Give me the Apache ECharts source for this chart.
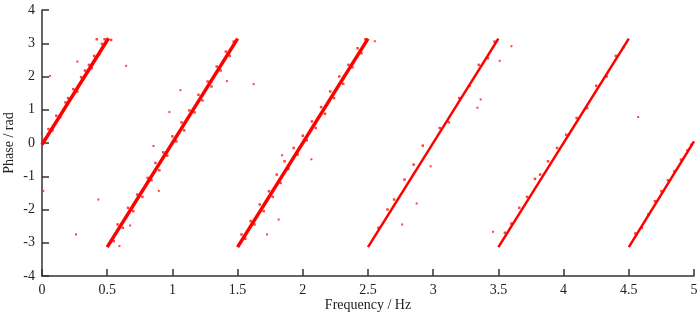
<!DOCTYPE html>
<html>
<head>
<meta charset="utf-8">
<script src="https://cdn.jsdelivr.net/npm/echarts@6/dist/echarts.min.js"></script>
<style>
  html, body { margin: 0; padding: 0; background: #fff; }
  #chart { width: 700px; height: 312px; }
</style>
</head>
<body>
<div id="chart"></div>
<script>
// 每段相位线的起止（相位在 ±π 处折返）
var segFreqStart = [0, 0.5, 1.5, 2.5, 3.5, 4.5];
var segFreqEnd = [0.51, 1.5, 2.5, 3.5, 4.5, 5];
var segPhaseStart = [-0.05, -3.13, -3.13, -3.13, -3.13, -3.13];
var segPhaseEnd = [3.15, 3.14, 3.14, 3.14, 3.14, 0.05];
var segWidth = [3.5, 3.5, 3.5, 2.5, 2.5, 2.5];

// 线旁边的散点
var nearPoints = [
    [0.02, 0.12], [0.05, 0.42], [0.08, 0.38], [0.11, 0.82], [0.14, 0.78], [0.18, 1.22], [0.2, 1.35],
    [0.24, 1.62], [0.27, 1.55], [0.3, 1.98], [0.33, 2.18], [0.36, 2.35], [0.38, 2.25], [0.4, 2.62],
    [0.42, 3.12], [0.44, 2.68], [0.46, 2.98], [0.48, 3.12], [0.53, 3.1],
    [0.55, -2.95], [0.58, -2.45], [0.62, -2.55], [0.66, -1.95], [0.7, -2.05], [0.73, -1.55], [0.77, -1.62],
    [0.81, -1.05], [0.84, -1.12], [0.87, -0.6], [0.9, -0.82], [0.93, -0.28], [0.96, -0.38], [1.0, 0.2],
    [1.03, 0.05], [1.07, 0.62], [1.09, 0.38], [1.13, 0.98], [1.17, 0.92], [1.2, 1.45], [1.23, 1.28],
    [1.27, 1.85], [1.3, 1.7], [1.34, 2.3], [1.37, 2.18], [1.41, 2.75], [1.44, 2.62], [1.47, 3.05],
    [1.53, -2.75], [1.56, -2.88], [1.6, -2.35], [1.63, -2.45], [1.67, -1.85], [1.7, -2.05], [1.74, -1.45],
    [1.77, -1.62], [1.8, -0.95], [1.83, -1.2], [1.86, -0.55], [1.89, -0.78], [1.93, -0.15], [1.96, -0.35],
    [2.0, 0.22], [2.03, 0.08], [2.07, 0.65], [2.1, 0.45], [2.14, 1.08], [2.17, 0.88], [2.21, 1.55],
    [2.24, 1.35], [2.28, 2.0], [2.31, 1.78], [2.35, 2.35], [2.38, 2.28], [2.42, 2.85], [2.45, 2.7], [2.48, 3.12],
    [2.58, -2.55], [2.65, -2.0], [2.7, -1.7], [2.78, -1.1], [2.85, -0.65], [2.92, -0.08], [3.05, 0.45],
    [3.12, 0.62], [3.2, 1.35], [3.28, 1.72], [3.35, 2.35], [3.42, 2.55], [3.47, 3.05],
    [3.55, -2.7], [3.6, -2.42], [3.66, -1.95], [3.72, -1.62], [3.78, -1.08], [3.82, -0.95], [3.88, -0.55],
    [3.95, -0.15], [4.02, 0.25], [4.1, 0.75], [4.18, 1.05], [4.25, 1.72], [4.33, 2.0], [4.4, 2.62], [4.46, 2.88],
    [4.55, -2.72], [4.6, -2.55], [4.65, -2.15], [4.7, -1.75], [4.75, -1.45], [4.8, -1.12], [4.85, -0.85],
    [4.9, -0.5], [4.95, -0.22], [4.98, -0.05]
];

// 离群点
var outliers = [
    [0.061, 2.02], [0.645, 2.32], [0.271, 2.45], [1.062, 1.59], [1.418, 1.86], [0.855, -0.09],
    [0.977, 0.93], [0.01, -1.44], [0.432, -1.70], [0.261, -2.75], [0.896, -1.44], [0.676, -2.48],
    [0.594, -3.10], [1.623, 1.77], [1.841, -0.37], [2.552, 3.06], [2.066, -0.49], [1.815, -2.30],
    [1.726, -2.75], [2.98, -0.70], [2.873, -1.82], [2.762, -2.45], [3.60, 2.91], [3.51, 2.47],
    [3.364, 1.31], [3.339, 1.06], [4.572, 0.78], [3.459, -2.67]
];

var xTicks = [0, 0.5, 1, 1.5, 2, 2.5, 3, 3.5, 4, 4.5, 5];
var yMin = -4, yMax = 4;

var fontFamily = '"Liberation Serif", "DejaVu Serif", serif';
var axisColor = '#333';

var series = [];
for (var i = 0; i < segFreqStart.length; i++) {
    series.push({
        type: 'line',
        showSymbol: false,
        silent: true,
        lineStyle: { color: '#ff0000', width: segWidth[i], cap: 'butt' },
        data: [[segFreqStart[i], segPhaseStart[i]], [segFreqEnd[i], segPhaseEnd[i]]]
    });
}
series.push({
    type: 'scatter',
    symbol: 'rect',
    symbolSize: 2.5,
    itemStyle: { color: '#ff2020', opacity: 0.85 },
    data: nearPoints
});
series.push({
    type: 'scatter',
    symbol: 'rect',
    symbolSize: 2,
    itemStyle: { color: '#ff2020', opacity: 0.85 },
    data: outliers
});

var chart = echarts.init(document.getElementById('chart'), null, { renderer: 'canvas' });
chart.setOption({
    animation: false,
    backgroundColor: '#fff',
    grid: { left: 42, right: 6, top: 10, bottom: 36, outerBoundsMode: 'none', containLabel: false },
    xAxis: {
        type: 'value',
        min: xTicks[0],
        max: xTicks[xTicks.length - 1],
        interval: 0.5,
        name: 'Frequency / Hz',
        nameLocation: 'middle',
        nameGap: 22,
        nameMoveOverlap: false,
        nameTextStyle: { fontFamily: fontFamily, fontSize: 14, color: '#222' },
        axisLine: { show: true, onZero: false, lineStyle: { color: axisColor, width: 1.5 } },
        axisTick: { show: true, inside: true, length: 7, lineStyle: { color: axisColor, width: 1.5 } },
        axisLabel: { fontFamily: fontFamily, fontSize: 14, color: '#222', margin: 7 },
        splitLine: { show: false }
    },
    yAxis: {
        type: 'value',
        min: yMin,
        max: yMax,
        interval: 1,
        name: 'Phase / rad',
        nameLocation: 'middle',
        nameGap: 26,
        nameMoveOverlap: false,
        nameTextStyle: { fontFamily: fontFamily, fontSize: 14, color: '#222' },
        axisLine: { show: true, onZero: false, lineStyle: { color: axisColor, width: 1.5 } },
        axisTick: { show: true, inside: true, length: 7, lineStyle: { color: axisColor, width: 1.5 } },
        axisLabel: { fontFamily: fontFamily, fontSize: 14, color: '#222', margin: 7 },
        splitLine: { show: false }
    },
    series: series
});
</script>
</body>
</html>
